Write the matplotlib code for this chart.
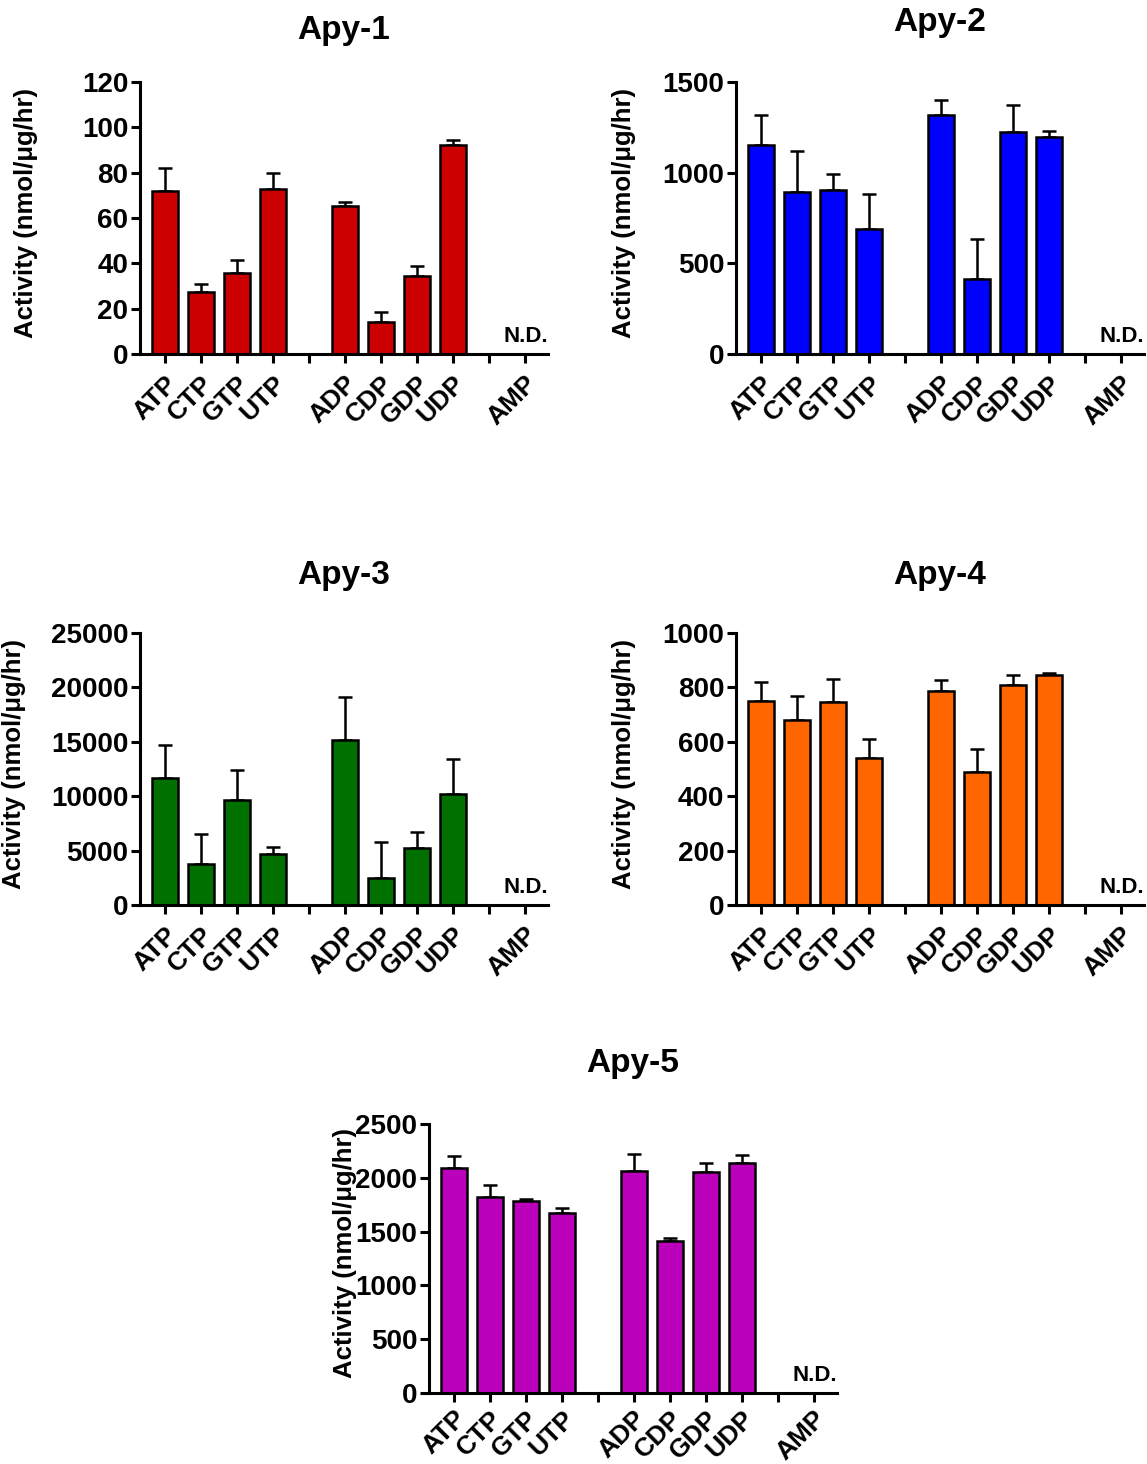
import matplotlib
matplotlib.use('Agg')
import matplotlib.pyplot as plt

plt.rcParams['font.family'] = ['Liberation Sans', 'DejaVu Sans']
plt.rcParams['font.weight'] = 'bold'

labels = ['ATP', 'CTP', 'GTP', 'UTP', '', 'ADP', 'CDP', 'GDP', 'UDP', '', 'AMP']
bar_labels = ['ATP', 'CTP', 'GTP', 'UTP', 'ADP', 'CDP', 'GDP', 'UDP']
bar_pos = [1, 2, 3, 4, 6, 7, 8, 9]

titles = ['Apy-1', 'Apy-2', 'Apy-3', 'Apy-4', 'Apy-5']
colors = ['#cc0000', '#0000ff', '#007000', '#ff6600', '#bb00bb']

apy1_mean = [72.0, 27.4, 35.7, 73.0, 65.3, 14.2, 34.2, 92.2]
apy1_err = [10.2, 3.3, 5.9, 6.8, 1.7, 4.2, 4.7, 2.2]

apy2_mean = [1152, 893, 902, 691, 1317, 411, 1227, 1197]
apy2_err = [168, 229, 88, 193, 84, 222, 148, 35]

apy3_mean = [11700, 3800, 9650, 4700, 15150, 2450, 5200, 10200]
apy3_err = [3050, 2750, 2750, 640, 4000, 3300, 1530, 3250]

apy4_mean = [749, 679, 745, 539, 785, 490, 808, 845]
apy4_err = [72, 88, 85, 73, 43, 84, 39, 8]

apy5_mean = [2095, 1819, 1788, 1672, 2067, 1411, 2058, 2141]
apy5_err = [111, 114, 13, 46, 154, 28, 77, 74]

means = [apy1_mean, apy2_mean, apy3_mean, apy4_mean, apy5_mean]
errs = [apy1_err, apy2_err, apy3_err, apy4_err, apy5_err]
ymax = [120, 1500, 25000, 1000, 2500]
ystep = [20, 500, 5000, 200, 500]

W, H = 1147, 1464
fig = plt.figure(figsize=(W / 100, H / 100), dpi=100)

# axes boxes in pixels: left, right, top, bottom
boxes = [(140, 548, 82, 354), (736, 1144, 82, 354),
         (140, 548, 633, 905), (736, 1144, 633, 905),
         (429, 837, 1124, 1393)]
title_y = [1.19, 1.22, 1.213, 1.213, 1.225]
ylabel_x = [-0.25, -0.245, -0.279, -0.245, -0.176]
xpad = [6, 6, 6, 6, 3]

for i in range(5):
    l, r, t, b = boxes[i]
    ax = fig.add_axes([l / W, 1 - b / H, (r - l) / W, (b - t) / H])
    ax.bar(bar_pos, means[i], width=0.72, color=colors[i], edgecolor='black',
           linewidth=1.8, zorder=2)
    ax.errorbar(bar_pos, means[i], yerr=[[0] * 8, errs[i]], fmt='none',
                ecolor='black', elinewidth=1.8, capsize=5, capthick=1.8, zorder=1)
    ax.set_xlim(0.31, 11.65)
    ax.set_ylim(0, ymax[i])
    ax.set_yticks(range(0, ymax[i] + 1, ystep[i]))
    ax.set_xticks(range(1, 12))
    ax.set_xticklabels(labels, rotation=45, ha='right', rotation_mode='anchor',
                       fontsize=19, fontweight='bold')
    for lab in ax.get_yticklabels():
        lab.set_fontsize(20)
        lab.set_fontweight('bold')
    ax.spines['top'].set_visible(False)
    ax.spines['right'].set_visible(False)
    ax.spines['left'].set_linewidth(2.2)
    ax.spines['bottom'].set_linewidth(2.2)
    ax.tick_params(axis='both', length=6.5, width=2.2, direction='out')
    ax.tick_params(axis='x', pad=xpad[i])
    ax.tick_params(axis='y', pad=2)
    ax.set_ylabel('Activity (nmol/μg/hr)', fontsize=18.5, fontweight='bold')
    ax.yaxis.set_label_coords(ylabel_x[i], 0.52)
    ax.text(0.5, title_y[i], titles[i], transform=ax.transAxes, ha='center',
            va='center', fontsize=24, fontweight='bold')
    ax.annotate('N.D.', xy=(11.65, 0), xytext=(0, 5), textcoords='offset points',
                ha='right', va='bottom', fontsize=16, fontweight='bold')

plt.savefig('out.png', dpi=100)
